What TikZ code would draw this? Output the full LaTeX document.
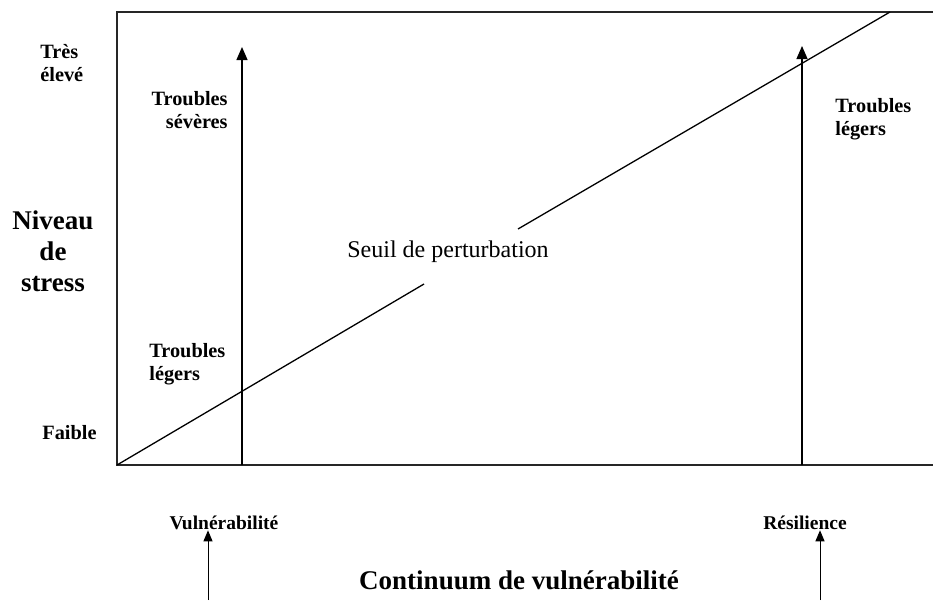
\documentclass[tikz,border=0pt]{standalone}
\usepackage{fontspec}
\setmainfont{Liberation Serif}
\usetikzlibrary{arrows.meta}

\begin{document}
\begin{tikzpicture}[x=1pt, y=-1pt, >={Triangle[width=11pt,length=13pt]}, thick,
		lbl/.style={font=\bfseries\fontsize{20.3}{23}\selectfont, inner sep=0pt},
		big/.style={font=\bfseries\fontsize{27}{31}\selectfont, inner sep=0pt},
		small/.style={font=\bfseries\fontsize{19.5}{22}\selectfont, inner sep=0pt},
		axe/.style={line width=1.5pt, black!85}]
	\useasboundingbox (0,0) rectangle (933,600);

	%Cadre (ouvert a droite):
	\coordinate (O)  at (117,465);
	\coordinate (TL) at (117,12);
	\coordinate (TR) at (933,12);
	\coordinate (BR) at (933,465);
	\draw[axe] (TR) -- (TL) -- (O) -- (BR);

	%Seuil:
	\coordinate (S)    at (890,12);
	\coordinate (gapA) at (424,284);
	\coordinate (gapB) at (518,229);
	\draw[line width=1.3pt] (O) -- (gapA);
	\draw[line width=1.3pt] (gapB) -- (S);
	\node[font=\fontsize{24}{28}\selectfont, inner sep=0pt] (seuil) at (448,252) {Seuil de perturbation};

	%Fleches verticales:
	\coordinate (vb) at (242,465);
	\coordinate (vt) at (242,47);
	\coordinate (rb) at (802,465);
	\coordinate (rt) at (802,46);
	\draw[->, line width=1.2pt] (vb) -- (vt);
	\draw[->, line width=1.2pt] (rb) -- (rt);

	%Axe vertical:
	\node[lbl, align=left, anchor=west]  (haut)   at (40,63)  {Très\\élevé};
	\node[lbl, anchor=west]              (faible) at (42,433) {Faible};
	\node[big, align=center]             (niveau) at (53,251) {Niveau\\de\\stress};

	%Troubles:
	\node[lbl, align=right, anchor=east] (sev)   at (228,110) {Troubles\\sévères};
	\node[lbl, align=left, anchor=west]  (legA)  at (149,364) {Troubles\\légers};
	\node[lbl, align=left, anchor=west]  (legB)  at (835,119) {Troubles\\légers};

	%Axe horizontal:
	\node[small] (vuln) at (224,523) {Vulnérabilité};
	\node[small] (resi) at (805,523) {Résilience};
	\node[big]   (cont) at (519,580) {Continuum de vulnérabilité};
	\coordinate (va) at (208,600);
	\coordinate (ra) at (820,600);
	\draw[->, >={Triangle[width=9pt,length=11pt]}, line width=1pt] (va) -- (vuln.south -| va);
	\draw[->, >={Triangle[width=9pt,length=11pt]}, line width=1pt] (ra) -- (resi.south -| ra);
\end{tikzpicture}
\end{document}
